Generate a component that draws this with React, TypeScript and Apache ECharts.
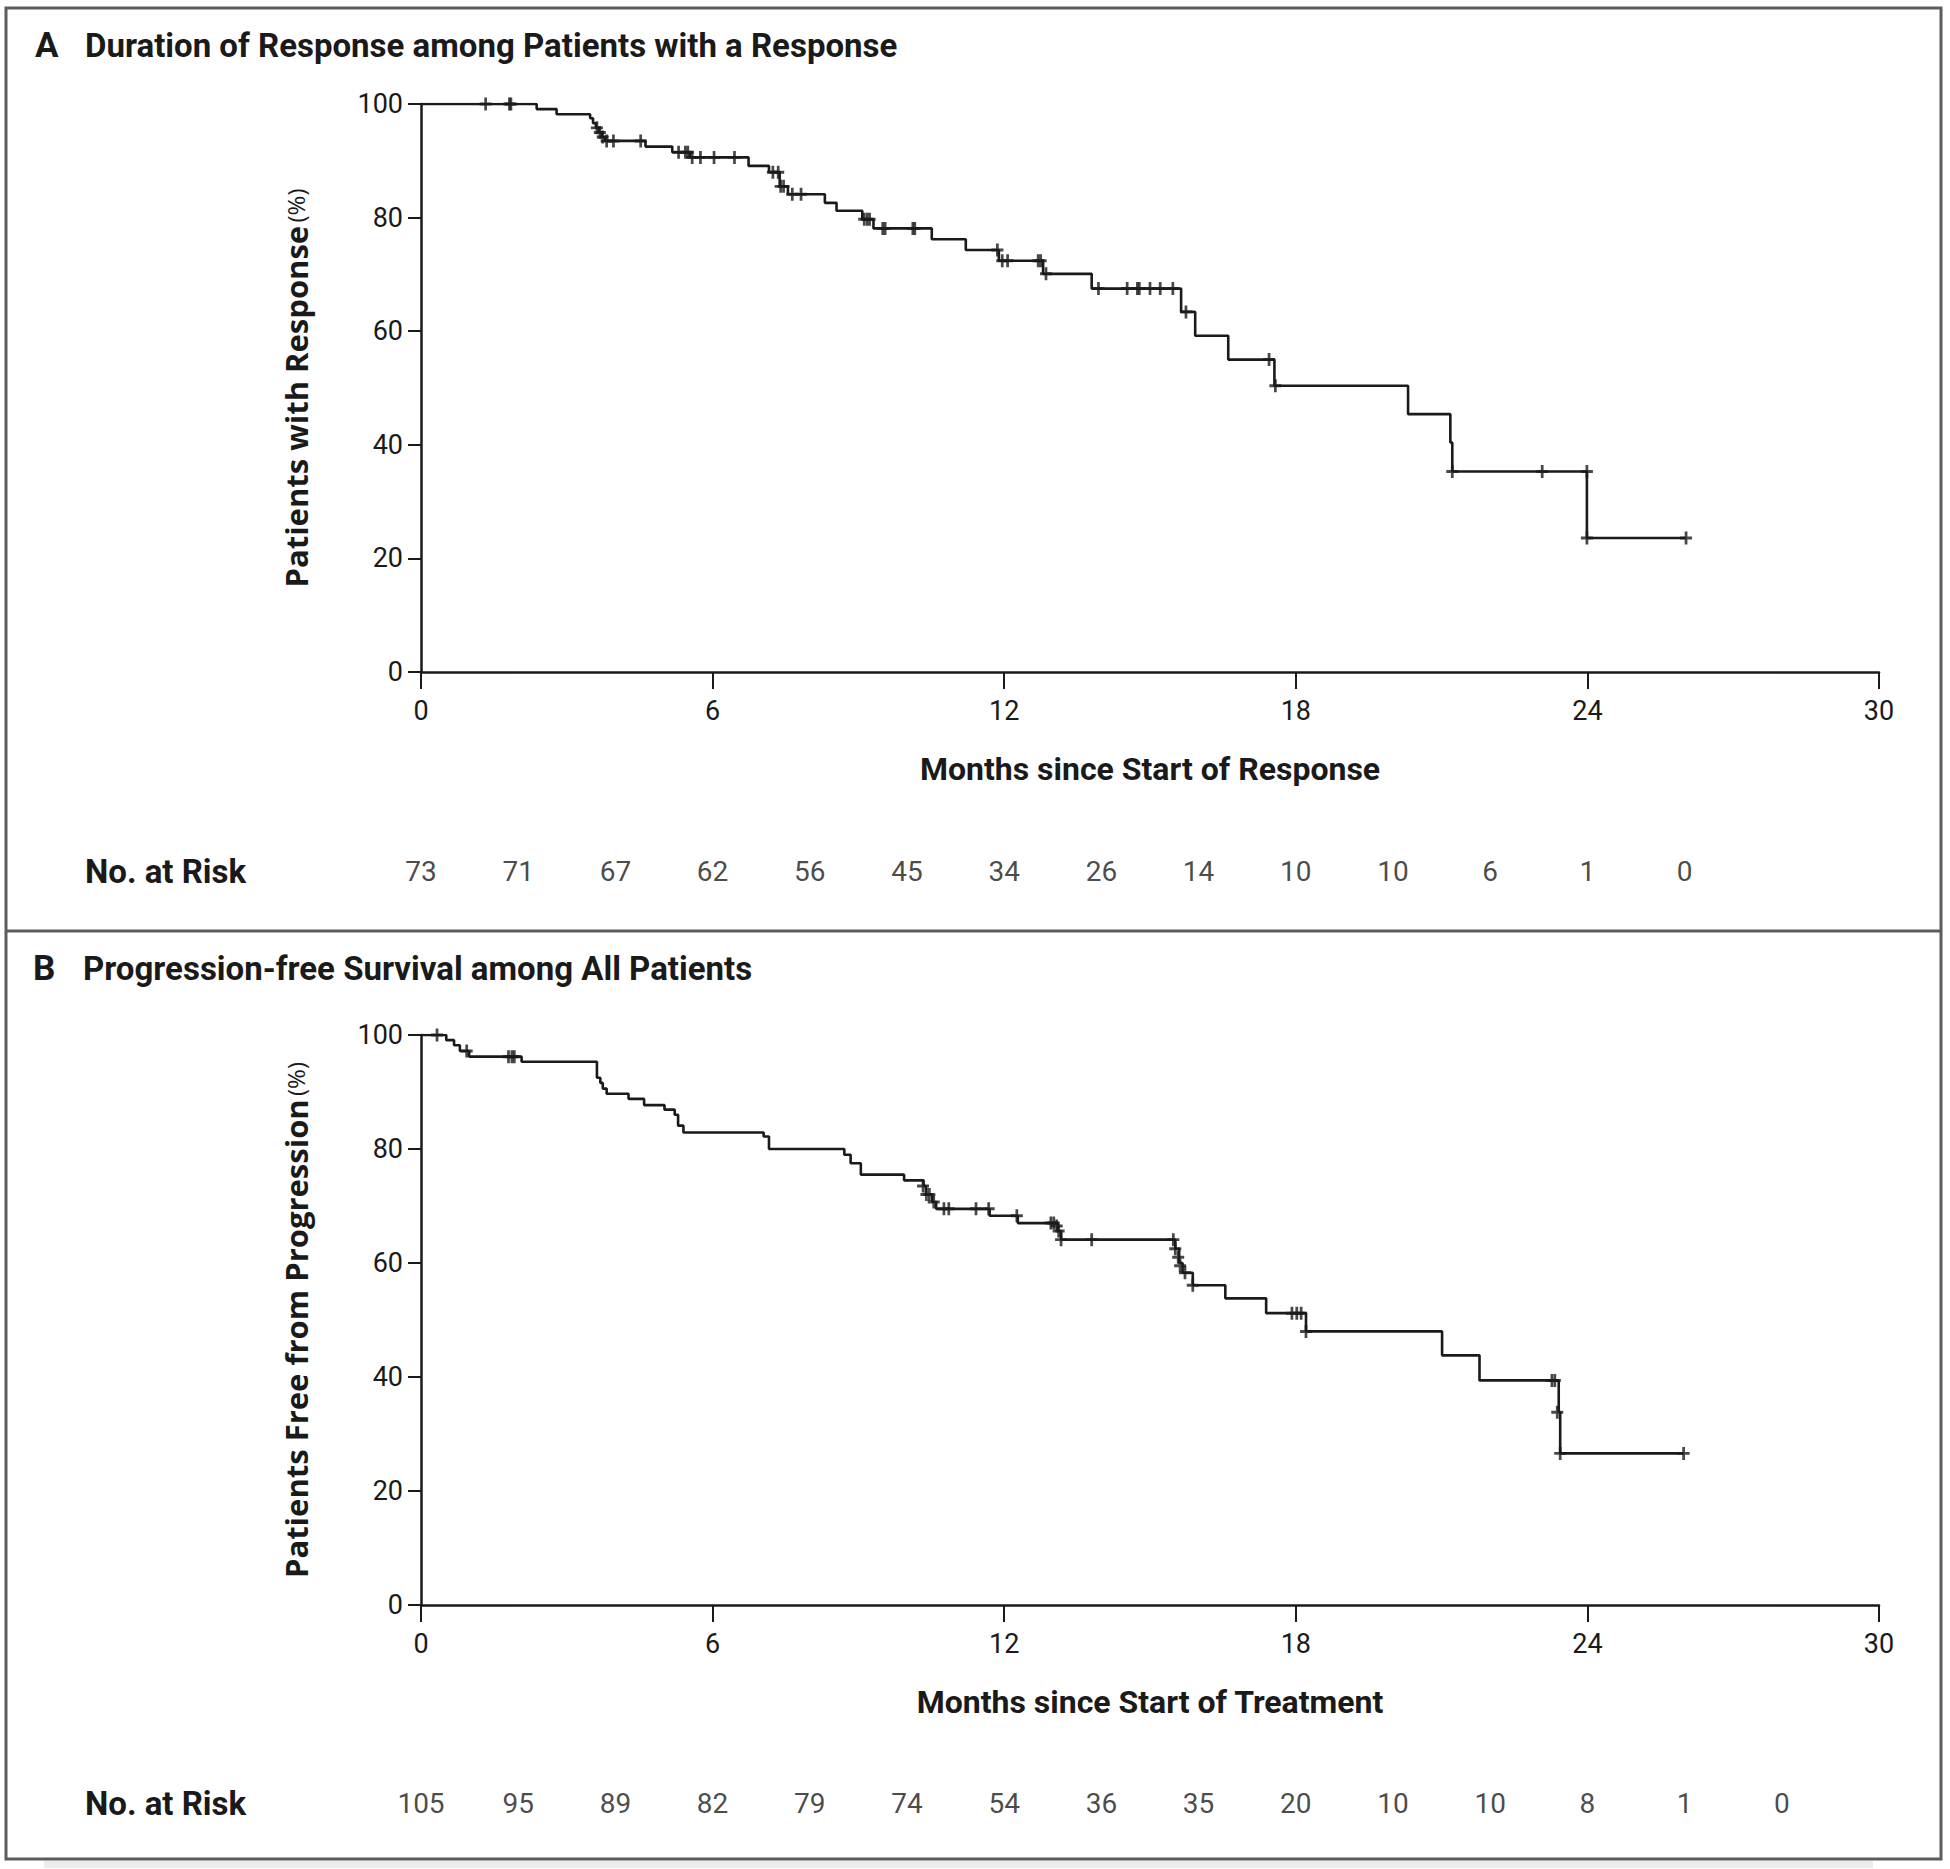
import React, { useEffect, useRef } from 'react';
import * as echarts from 'echarts';

// ---------- Data ----------
const monthTicks = [0, 6, 12, 18, 24, 30];
const percentTicks = [0, 20, 40, 60, 80, 100];

// Panel A: Duration of response (KM steps: time in months, % after the step)
const aEventTimes = [0, 2.38, 2.79, 3.48, 3.54, 3.6, 3.66, 3.72, 3.79, 4.62, 5.17, 5.53, 6.74, 7.16, 7.38, 7.55, 8.31, 8.55, 9.08, 9.31, 10.51, 11.21, 11.89, 12.8, 13.8, 15.64, 15.93, 16.61, 17.56, 20.31, 21.18, 21.22, 23.99, 26.03];
const aEventSurv = [100, 99.1, 98.2, 97.5, 96.6, 95.8, 95.0, 94.2, 93.5, 92.5, 91.5, 90.6, 89.1, 88.0, 85.5, 84.1, 82.6, 81.2, 79.7, 78.1, 76.2, 74.3, 72.4, 70.1, 67.5, 63.4, 59.2, 55.0, 50.4, 45.4, 40.4, 35.3, 23.6, 23.6];
const aCensorTimes = [1.33, 1.82, 1.85, 3.62, 3.68, 3.74, 3.82, 3.96, 4.52, 5.3, 5.44, 5.49, 5.58, 5.75, 6.03, 6.45, 7.24, 7.35, 7.4, 7.46, 7.64, 7.82, 9.12, 9.18, 9.23, 9.5, 9.55, 10.12, 10.16, 11.86, 11.96, 12.07, 12.7, 12.75, 12.86, 13.94, 14.53, 14.74, 14.78, 15.0, 15.21, 15.47, 15.74, 17.45, 17.58, 21.22, 23.07, 23.99, 23.99, 26.03];
const aCensorSurv = [100, 100, 100, 95.8, 95.0, 94.2, 93.5, 93.5, 93.5, 91.5, 91.5, 91.5, 90.6, 90.6, 90.6, 90.6, 88.0, 88.0, 85.5, 85.5, 84.1, 84.1, 79.7, 79.7, 79.7, 78.1, 78.1, 78.1, 78.1, 74.3, 72.4, 72.4, 72.4, 72.4, 70.1, 67.5, 67.5, 67.5, 67.5, 67.5, 67.5, 67.5, 63.4, 55.0, 50.4, 35.3, 35.3, 35.3, 23.6, 23.6];
const aRiskMonths = [0, 2, 4, 6, 8, 10, 12, 14, 16, 18, 20, 22, 24, 26];
const aRiskCounts = [73, 71, 67, 62, 56, 45, 34, 26, 14, 10, 10, 6, 1, 0];

// Panel B: Progression-free survival
const bEventTimes = [0, 0.52, 0.68, 0.8, 0.99, 2.07, 3.62, 3.69, 3.74, 3.82, 4.27, 4.59, 5.01, 5.22, 5.29, 5.4, 7.05, 7.16, 8.71, 8.84, 9.05, 9.94, 10.34, 10.39, 10.52, 10.6, 11.7, 12.28, 13.1, 13.17, 15.52, 15.6, 15.67, 15.88, 16.55, 17.39, 18.21, 21.01, 21.78, 23.41, 23.44, 25.98];
const bEventSurv = [100, 99.1, 98.2, 97.2, 96.2, 95.3, 92.5, 91.6, 90.6, 89.7, 88.8, 87.7, 86.9, 86.0, 84.1, 82.9, 82.2, 80.0, 79.0, 77.5, 75.5, 74.5, 73.5, 72.0, 70.7, 69.5, 68.3, 67.0, 65.6, 64.1, 62.5, 60.0, 58.3, 56.1, 53.8, 51.2, 48.0, 43.8, 39.4, 33.8, 26.6, 26.6];
const bCensorTimes = [0.33, 0.94, 1.8, 1.87, 1.92, 10.33, 10.4, 10.46, 10.55, 10.76, 10.86, 11.42, 11.68, 12.26, 12.96, 13.02, 13.08, 13.12, 13.17, 13.8, 15.48, 15.52, 15.58, 15.62, 15.72, 15.88, 17.92, 18.02, 18.11, 18.21, 23.27, 23.33, 23.38, 23.44, 25.98];
const bCensorSurv = [100, 97.2, 96.2, 96.2, 96.2, 73.5, 72.0, 72.0, 70.7, 69.5, 69.5, 69.5, 69.5, 68.3, 67.0, 67.0, 66.5, 65.6, 64.1, 64.1, 64.1, 62.5, 61.0, 59.5, 58.3, 56.1, 51.2, 51.2, 51.2, 48.0, 39.4, 39.4, 33.8, 26.6, 26.6];
const bRiskMonths = [0, 2, 4, 6, 8, 10, 12, 14, 16, 18, 20, 22, 24, 26, 28];
const bRiskCounts = [105, 95, 89, 82, 79, 74, 54, 36, 35, 20, 10, 10, 8, 1, 0];

const panelTitles = ['Duration of Response among Patients with a Response', 'Progression-free Survival among All Patients'];
const panelLetters = ['A', 'B'];
const xNames = ['Months since Start of Response', 'Months since Start of Treatment'];
const yNames = ['Patients with Response', 'Patients Free from Progression'];

// ---------- Styling ----------
const INK = '#1a1a1a';
const FONT = 'Roboto, "Liberation Sans", sans-serif';
const YFONT = '"Open Sans", Lato, sans-serif';
const PLUS = 'path://M4.25,0 L6.75,0 L6.75,4.25 L11,4.25 L11,6.75 L6.75,6.75 L6.75,11 L4.25,11 L4.25,6.75 L0,6.75 L0,4.25 L4.25,4.25 Z';

const zip = (a: number[], b: number[]) => a.map((v, i) => [v, b[i]]);

function buildOption() {
  const plotLeft = 421;
  const plotWidth = 1458;
  const grids = [
    { left: plotLeft, width: plotWidth, top: 104, height: 568 },
    { left: plotLeft, width: plotWidth, top: 856, height: 30 },
    { left: plotLeft, width: plotWidth, top: 1035, height: 570 },
    { left: plotLeft, width: plotWidth, top: 1788, height: 30 },
  ];

  const mainX = (i: number) => ({
    type: 'value',
    gridIndex: i,
    min: monthTicks[0],
    max: monthTicks[monthTicks.length - 1],
    interval: 6,
    axisLine: { show: true, lineStyle: { color: INK, width: 2.5 } },
    axisTick: { show: true, length: 17, lineStyle: { color: INK, width: 2 } },
    axisLabel: { margin: 25, fontSize: 27, color: INK, fontFamily: FONT },
    splitLine: { show: false },
    name: xNames[i === 0 ? 0 : 1],
    nameLocation: 'middle',
    nameGap: 81,
    nameTextStyle: { fontSize: 32, fontWeight: 'bold', color: INK, fontFamily: FONT },
  });
  const riskX = (i: number) => ({
    type: 'value', gridIndex: i, min: 0, max: 30, show: false,
  });
  const mainY = (i: number, name: string) => ({
    type: 'value',
    gridIndex: i,
    min: percentTicks[0],
    max: percentTicks[percentTicks.length - 1],
    interval: 20,
    axisLine: { show: true, lineStyle: { color: INK, width: 2.5 } },
    axisTick: { show: true, length: 13, lineStyle: { color: INK, width: 2 } },
    axisLabel: { margin: 18, fontSize: 27, color: INK, fontFamily: FONT },
    splitLine: { show: false },
    name: `{b|${name}} {n|(%)}`,
    nameLocation: 'middle',
    nameGap: 110,
    nameRotate: 90,
    nameTextStyle: {
      rich: {
        b: { fontSize: 31, fontWeight: 'bold', color: INK, fontFamily: YFONT },
        n: { fontSize: 24, color: INK, fontFamily: YFONT },
      },
    },
  });
  const riskY = (i: number) => ({ type: 'value', gridIndex: i, min: 0, max: 1, show: false });

  const kmLine = (xi: number, data: number[][]) => ({
    type: 'line', xAxisIndex: xi, yAxisIndex: xi, step: 'end', data,
    showSymbol: false, symbol: 'none', silent: true, z: 2,
    lineStyle: { color: INK, width: 2.6 },
  });
  const censor = (xi: number, data: number[][]) => ({
    type: 'scatter', xAxisIndex: xi, yAxisIndex: xi, data, symbol: PLUS,
    symbolSize: [12, 13], itemStyle: { color: INK }, silent: true, z: 3,
  });
  const risk = (xi: number, months: number[], counts: number[]) => ({
    type: 'scatter', xAxisIndex: xi, yAxisIndex: xi,
    data: months.map((m, i) => [m, 0.5, counts[i]]),
    symbolSize: 0.1, itemStyle: { color: 'transparent' }, silent: true,
    label: {
      show: true, position: 'inside', formatter: (p: any) => String(p.value[2]),
      fontSize: 28, color: INK, fontFamily: FONT,
    },
  });

  const txt = (x: number, y: number, text: string, font: string) => ({
    type: 'text', x, y, silent: true,
    style: { text, font, fill: INK, textAlign: 'left', textVerticalAlign: 'middle', align: 'left', verticalAlign: 'middle' },
  });

  return {
    animation: false,
    backgroundColor: '#ffffff',
    grid: grids,
    xAxis: [mainX(0), riskX(1), mainX(2), riskX(3)],
    yAxis: [mainY(0, yNames[0]), riskY(1), mainY(2, yNames[1]), riskY(3)],
    series: [
      kmLine(0, zip(aEventTimes, aEventSurv)),
      censor(0, zip(aCensorTimes, aCensorSurv)),
      risk(1, aRiskMonths, aRiskCounts),
      kmLine(2, zip(bEventTimes, bEventSurv)),
      censor(2, zip(bCensorTimes, bCensorSurv)),
      risk(3, bRiskMonths, bRiskCounts),
    ],
    graphic: [
      { type: 'rect', silent: true, shape: { x: 44, y: 1861, width: 1829, height: 7 }, style: { fill: '#ececec' } },
      { type: 'rect', silent: true, shape: { x: 6, y: 8, width: 1935, height: 1851 }, style: { fill: 'none', stroke: '#5c5c5c', lineWidth: 3 } },
      { type: 'line', silent: true, shape: { x1: 6, y1: 931, x2: 1941, y2: 931 }, style: { stroke: '#5c5c5c', lineWidth: 3 } },
      txt(35, 45, panelLetters[0], `bold 35px ${FONT}`),
      txt(85, 45, panelTitles[0], `bold 33px ${FONT}`),
      txt(33, 968, panelLetters[1], `bold 35px ${FONT}`),
      txt(83, 968, panelTitles[1], `bold 33px ${FONT}`),
      txt(85, 871, 'No. at Risk', `bold 33px ${FONT}`),
      txt(85, 1803, 'No. at Risk', `bold 33px ${FONT}`),
    ],
  };
}

export default function App() {
  const ref = useRef<HTMLDivElement>(null);
  useEffect(() => {
    if (!ref.current) return;
    const chart = echarts.init(ref.current, null, { renderer: 'svg' });
    chart.setOption(buildOption() as any);
    return () => chart.dispose();
  }, []);
  return (
    <div
      ref={ref}
      style={{ position: 'absolute', left: 0, top: 0, width: 1950, height: 1869, background: '#fff' }}
    />
  );
}
